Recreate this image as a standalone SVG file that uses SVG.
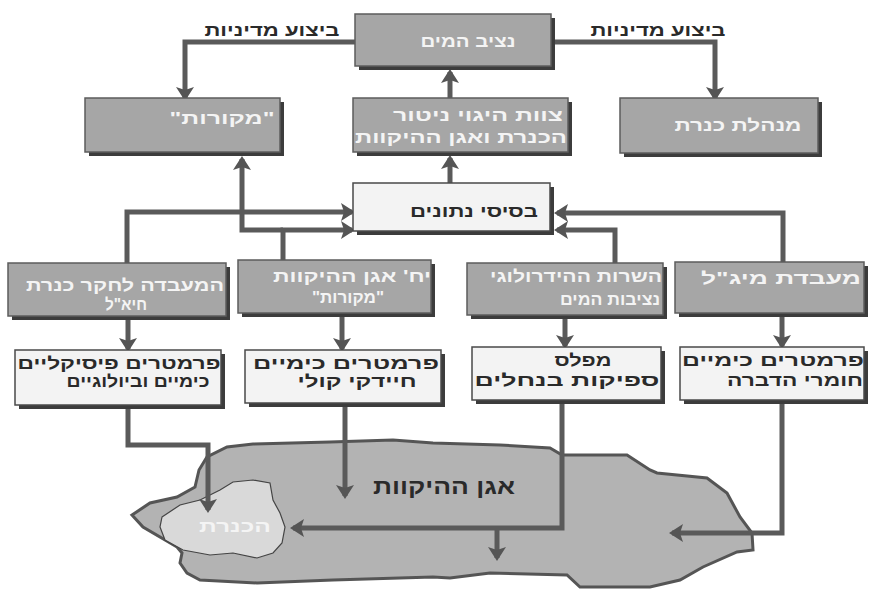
<svg xmlns="http://www.w3.org/2000/svg" width="872" height="591" viewBox="0 0 872 591">
<style>
.sh{fill:#3c3c3c}
.gb{fill:#a6a6a6;stroke:#5c5c5c;stroke-width:1.5}
.lb{fill:#f3f3f3;stroke:#4a4a4a;stroke-width:1.5}
text{font-family:"Liberation Sans","DejaVu Sans",sans-serif;font-weight:bold;font-size:17px;text-anchor:middle}
.lt{fill:#f4f4f4}
.dt{fill:#2a2a2a}
.c{fill:none;stroke:#5a5a5a;stroke-width:5;marker-end:url(#ah)}
</style>
<defs>
<marker id="ah" markerUnits="userSpaceOnUse" viewBox="0 0 14 18" markerWidth="14" markerHeight="18" refX="11" refY="9" orient="auto">
<path d="M0,0 L14,9 L0,18 L3,9 z" fill="#555"/>
</marker>
</defs>
<rect width="872" height="591" fill="#fff"/>

<g id="lake">
<polygon points="132,515 150,503 177,497 195,487 199,470 207,457 227,447 253,444 330,442 393,440 433,443 500,445 550,448 562,455 627,455 650,470 657,473 707,478 727,493 740,517 752,533 753,550 737,552 703,567 680,580 650,587 580,587 567,575 490,573 450,578 433,577 333,580 257,583 200,580 187,573 180,563 182,553 177,547 143,527" fill="#b3b3b3" stroke="#555" stroke-width="3"/>
<text x="444" y="494" class="dt" style="font-size:21px" textLength="142" lengthAdjust="spacingAndGlyphs">אגן ההיקוות</text>
</g>
<g id="kinneret">
<polygon points="162,517 180,505 200,500 220,490 233,482 253,480 270,483 273,500 280,513 285,527 282,543 273,553 257,558 233,553 210,555 183,550 165,540 160,527" fill="#d9d9d9" stroke="#444" stroke-width="1.2"/>
<text x="235" y="532" class="lt" style="font-size:17px" textLength="72" lengthAdjust="spacingAndGlyphs">הכנרת</text>
</g>

<g id="connectors">
<path class="c" d="M355,42 H185 V98"/>
<path class="c" d="M553,42 H715 V98"/>
<path class="c" d="M450,98 V72"/>
<path class="c" d="M450,183 V158"/>
<path class="c" d="M127,263 V212 H352"/>
<path class="c" d="M283,260 V230 H352"/>
<path class="c" d="M283,230 H242 V159"/>
<path class="c" d="M783,262 V213 H557"/>
<path class="c" d="M615,263 V230 H557"/>
<path class="c" d="M128,318 V349"/>
<path class="c" d="M342,315 V349"/>
<path class="c" d="M565,317 V346"/>
<path class="c" d="M782,315 V346"/>
<path class="c" d="M128,407 V445 H208 V510"/>
<path class="c" d="M345,405 V496"/>
<path class="c" d="M562,402 V528 H293"/>
<path class="c" d="M497,528 V558"/>
<path class="c" d="M782,402 V533 H672"/>
<text x="272" y="36" class="dt" textLength="135" lengthAdjust="spacingAndGlyphs">ביצוע מדיניות</text>
<text x="658" y="36" class="dt" textLength="135" lengthAdjust="spacingAndGlyphs">ביצוע מדיניות</text>
</g>

<g id="water-commissioner">
<rect class="sh" x="359" y="18" width="196" height="52"/>
<rect class="gb" x="355" y="14" width="196" height="52"/>
<text x="468" y="47" class="lt" textLength="95" lengthAdjust="spacingAndGlyphs">נציב המים</text>
</g>
<g id="mekorot">
<rect class="sh" x="89" y="102" width="195" height="54"/>
<rect class="gb" x="85" y="98" width="195" height="54"/>
<text x="222" y="124" class="lt" textLength="105" lengthAdjust="spacingAndGlyphs">"מקורות"</text>
</g>
<g id="steering-team">
<rect class="sh" x="357" y="102" width="215" height="54"/>
<rect class="gb" x="353" y="98" width="215" height="54"/>
<text x="478" y="121" class="lt" textLength="170" lengthAdjust="spacingAndGlyphs">צוות היגוי ניטור</text>
<text x="461" y="143" class="lt" textLength="212" lengthAdjust="spacingAndGlyphs">הכנרת ואגן ההיקוות</text>
</g>
<g id="kinneret-authority">
<rect class="sh" x="624" y="102" width="198" height="55"/>
<rect class="gb" x="620" y="98" width="198" height="55"/>
<text x="738" y="131" class="lt" textLength="127" lengthAdjust="spacingAndGlyphs">מנהלת כנרת</text>
</g>
<g id="databases">
<rect class="sh" x="357" y="187" width="197" height="48"/>
<rect class="lb" x="353" y="183" width="197" height="48"/>
<text x="474" y="217" class="dt" textLength="128" lengthAdjust="spacingAndGlyphs">בסיסי נתונים</text>
</g>

<g id="kinneret-lab">
<rect class="sh" x="12" y="267" width="218" height="53"/>
<rect class="gb" x="8" y="263" width="218" height="53"/>
<text x="125" y="291" class="lt" textLength="198" lengthAdjust="spacingAndGlyphs">המעבדה לחקר כנרת</text>
<text x="126" y="310" class="lt" textLength="42" lengthAdjust="spacingAndGlyphs">חיא"ל</text>
</g>
<g id="drainage-unit">
<rect class="sh" x="242" y="264" width="193" height="53"/>
<rect class="gb" x="238" y="260" width="193" height="53"/>
<text x="352" y="282" class="lt" textLength="158" lengthAdjust="spacingAndGlyphs">יח' אגן ההיקוות</text>
<text x="348" y="303" class="lt" textLength="72" lengthAdjust="spacingAndGlyphs">"מקורות"</text>
</g>
<g id="hydrological-service">
<rect class="sh" x="471" y="267" width="196" height="52"/>
<rect class="gb" x="467" y="263" width="196" height="52"/>
<text x="576" y="282" class="lt" textLength="172" lengthAdjust="spacingAndGlyphs">השרות ההידרולוגי</text>
<text x="610" y="305" class="lt" textLength="100" lengthAdjust="spacingAndGlyphs">נציבות המים</text>
</g>
<g id="migal-lab">
<rect class="sh" x="679" y="266" width="189" height="51"/>
<rect class="gb" x="675" y="262" width="189" height="51"/>
<text x="781" y="284" class="lt" textLength="160" lengthAdjust="spacingAndGlyphs">מעבדת מיג"ל</text>
</g>

<g id="params-physical">
<rect class="sh" x="19" y="354" width="206" height="55"/>
<rect class="lb" x="15" y="350" width="206" height="55"/>
<text x="119" y="369" class="dt" textLength="203" lengthAdjust="spacingAndGlyphs">פרמטרים פיסיקליים</text>
<text x="138" y="387" class="dt" textLength="143" lengthAdjust="spacingAndGlyphs">כימיים וביולוגיים</text>
</g>
<g id="params-coli">
<rect class="sh" x="249" y="354" width="196" height="53"/>
<rect class="lb" x="245" y="350" width="196" height="53"/>
<text x="346" y="369" class="dt" textLength="186" lengthAdjust="spacingAndGlyphs">פרמטרים כימיים</text>
<text x="357" y="387" class="dt" textLength="119" lengthAdjust="spacingAndGlyphs">חיידקי קולי</text>
</g>
<g id="params-flow">
<rect class="sh" x="476" y="351" width="189" height="53"/>
<rect class="lb" x="472" y="347" width="189" height="53"/>
<text x="583" y="366" class="dt" textLength="57" lengthAdjust="spacingAndGlyphs">מפלס</text>
<text x="567" y="386" class="dt" textLength="185" lengthAdjust="spacingAndGlyphs">ספיקות בנחלים</text>
</g>
<g id="params-pesticides">
<rect class="sh" x="684" y="351" width="184" height="53"/>
<rect class="lb" x="680" y="347" width="184" height="53"/>
<text x="773" y="366" class="dt" textLength="182" lengthAdjust="spacingAndGlyphs">פרמטרים כימיים</text>
<text x="795" y="386" class="dt" textLength="136" lengthAdjust="spacingAndGlyphs">חומרי הדברה</text>
</g>
</svg>
